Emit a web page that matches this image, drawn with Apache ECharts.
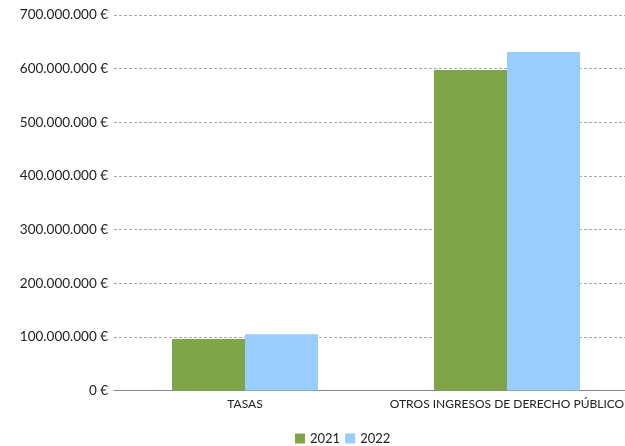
<!DOCTYPE html>
<html>
<head>
<meta charset="utf-8">
<script src="https://cdn.jsdelivr.net/npm/echarts@6/dist/echarts.min.js"></script>
<style>html,body{margin:0;padding:0;background:#fff;}#c{width:625px;height:446px;}</style>
</head>
<body>
<div id="c"></div>
<script>
const categories = ['TASAS', 'OTROS INGRESOS DE DERECHO PÚBLICO'];
const seriesNames = ['2021', '2022'];
const values2021 = [96000000, 597500000];
const values2022 = [105000000, 631000000];
const yTicks = { min: 0, max: 700000000, interval: 100000000 };

function fmt(v) {
  return String(Math.round(v)).replace(/\B(?=(\d{3})+(?!\d))/g, '.') + ' €';
}

const chart = echarts.init(document.getElementById('c'), null, { renderer: 'canvas' });
const font = 'Lato';
chart.setOption({
  animation: false,
  textStyle: { fontFamily: font },
  grid: { left: 114, top: 15, right: -13, bottom: 55.5, containLabel: false, outerBoundsMode: 'none' },
  legend: {
    data: seriesNames,
    top: 427,
    left: 290,
    itemWidth: 10,
    itemHeight: 10,
    itemGap: 5,
    icon: 'rect',
    textStyle: { fontFamily: font, fontSize: 13, color: '#222' }
  },
  xAxis: {
    type: 'category',
    data: categories,
    axisLine: { lineStyle: { color: '#888', width: 1 } },
    axisTick: { show: false },
    axisLabel: { fontFamily: font, fontSize: 12, color: '#222', margin: 8, interval: 0 }
  },
  yAxis: {
    type: 'value',
    min: yTicks.min, max: yTicks.max, interval: yTicks.interval,
    axisLine: { show: false },
    axisTick: { show: false },
    splitLine: { lineStyle: { color: '#aaa', type: [3, 2], width: 1 } },
    axisLabel: { fontFamily: font, fontSize: 13.5, color: '#222', margin: 6, formatter: fmt }
  },
  series: [
    { name: seriesNames[0], type: 'bar', data: values2021, barWidth: 73, barGap: '0%', itemStyle: { color: '#7ea648' } },
    { name: seriesNames[1], type: 'bar', data: values2022, barWidth: 73, barGap: '0%', itemStyle: { color: '#99ccff' } }
  ]
});
</script>
</body>
</html>
